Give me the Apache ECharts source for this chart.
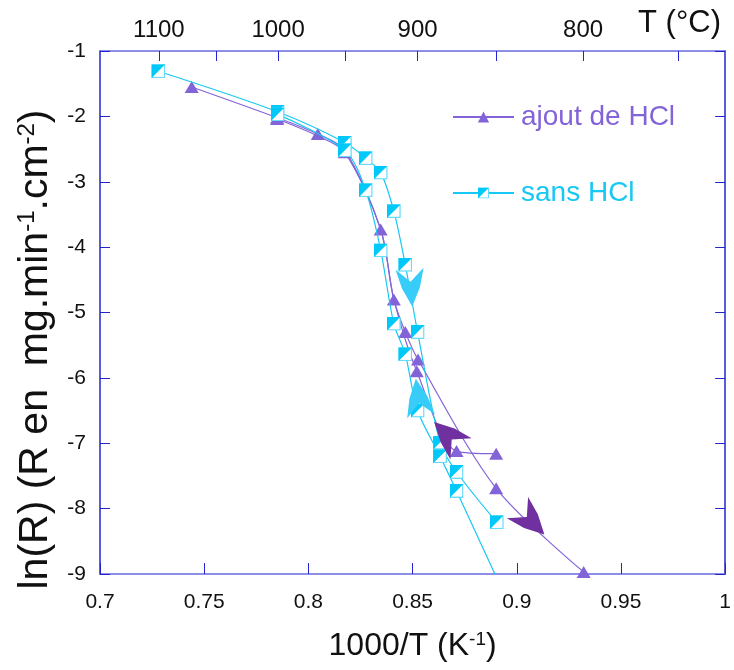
<!DOCTYPE html>
<html>
<head>
<meta charset="utf-8">
<script src="https://cdn.jsdelivr.net/npm/echarts@6/dist/echarts.min.js"></script>
<style>
html,body{margin:0;padding:0;background:#fff;}
#chart{width:734px;height:670px;}
</style>
</head>
<body>
<div id="chart"></div>
<script>
// ---- data (x = 1000/T in K^-1, y = ln(R)) ----
const seriesNames = ['ajout de HCl', 'sans HCl'];
// "ajout de HCl" : cooling branch (arrow downwards)
const ajoutCooling = [[0.744,-1.55],[0.785,-2.02],[0.8045,-2.27],[0.8175,-2.52],[0.8347,-3.73],[0.841,-4.80],[0.8465,-5.30],[0.8526,-5.72],[0.8901,-7.69],[0.9321,-8.97]];
// "ajout de HCl" : heating branch (arrow upwards)
const ajoutHeating = [[0.8901,-7.16],[0.8711,-7.12],[0.852,-5.90],[0.841,-4.80],[0.8347,-3.73],[0.8175,-2.55],[0.8045,-2.30],[0.785,-2.04]];
const ajoutHeatingMarked = [true,true,true,false,false,true,false,true];
// "sans HCl" : cooling branch
const sansCooling = [[0.728,-1.31],[0.7852,-1.93],[0.8175,-2.40],[0.8275,-2.64],[0.8347,-2.86],[0.841,-3.45],[0.8465,-4.27],[0.8524,-5.30],[0.8632,-6.99],[0.8711,-7.44],[0.8904,-8.21]];
// "sans HCl" : heating branch
const sansHeating = [[0.8895,-9.0],[0.8711,-7.73],[0.8632,-7.20],[0.8524,-6.50],[0.8465,-5.64],[0.841,-5.17],[0.8347,-4.05],[0.8275,-3.13],[0.8175,-2.52],[0.7852,-1.97]];
const sansHeatingMarked = [false,true,true,true,true,true,true,true,true,true];
// direction arrows [x, y, rotation]
const ajoutArrows = [[0.8668,-6.88,225],[0.9068,-8.19,45]];
const sansArrows = [[0.8492,-4.62,4],[0.8528,-6.30,188]];
// axis ticks
const xTicks = {min:0.7, max:1.0, step:0.05};
const yTicks = {min:-9, max:-1, step:1};
const topTickTemps = [1100,1050,1000,950,900,850,800,750];
const topLabelTemps = [1100,1000,900,800];

const PURPLE = '#8364d8';
const PURPLE_DARK = '#7030a0';
const CYAN = '#18c8f4';
const CYAN_ARROW = '#38ccf8';

const sqSvg = "<svg xmlns='http://www.w3.org/2000/svg' width='28' height='28' viewBox='0 0 14 14'>" +
  "<rect x='0.7' y='0.7' width='12.6' height='12.6' fill='#ffffff' stroke='#66dcfa' stroke-width='1.4'/>" +
  "<polygon points='0,0 14,0 0,14' fill='#00c8f8'/></svg>";
const squareSymbol = 'image://data:image/svg+xml;charset=utf-8,' + encodeURIComponent(sqSvg);
const arrowPath = 'path://M0,0 L10,9 L20,0 L16.5,13 L10,26 L3.5,13 Z';

function invT(t){ return 1000/(t+273.15); }

function withMarks(arr, marks){
  return arr.map((p,i)=> marks[i] ? {value:p} : {value:p, symbol:'none'});
}
function arrowPoints(arr, color){
  return arr.map(a=>({coord:[a[0],a[1]], symbolRotate:a[2], itemStyle:{color:color}}));
}

const chart = echarts.init(document.getElementById('chart'));
const axisBlue = '#6a6ae2';
const tickBlue = '#2424cc';
const labelFont = 'Liberation Sans, Arial, sans-serif';

const triSymbolSize = [14,12];
const sqSymbolSize = 14;

const option = {
  animation: false,
  backgroundColor: '#ffffff',
  textStyle: {fontFamily: labelFont},
  title: {
    text: 'T (°C)', right: 8, top: 3,
    textStyle: {fontSize: 31, fontWeight: 'normal', color: '#111', fontFamily: labelFont}
  },
  legend: {
    orient: 'vertical', left: 452, top: 103, itemGap: 48, padding: 0,
    itemWidth: 61, itemHeight: 14,
    data: [
      {name: seriesNames[0], textStyle: {color: PURPLE}},
      {name: seriesNames[1], textStyle: {color: CYAN}}
    ],
    textStyle: {fontSize: 28, fontFamily: labelFont, padding: [0,0,0,2]},
    selectedMode: false
  },
  grid: {left: 100, right: 3, top: 51, bottom: 96, containLabel: false},
  xAxis: [
    {
      type: 'value', position: 'bottom', min: xTicks.min, max: xTicks.max, interval: xTicks.step,
      axisLine: {onZero: false, lineStyle: {color: axisBlue, width: 1.5}},
      axisTick: {inside: true, length: 11, lineStyle: {color: tickBlue, width: 1}},
      splitLine: {show: false},
      axisLabel: {fontSize: 21, color: '#111', margin: 18, formatter: v => String(+v.toFixed(2))},
      name: '{a|1000/T (K}{s|-1}{a|)}', nameLocation: 'middle', nameGap: 56,
      nameTextStyle: {rich: {
        a: {fontSize: 32, color: '#111', fontFamily: labelFont},
        s: {fontSize: 19, color: '#111', fontFamily: labelFont, verticalAlign: 'top', padding: [0,0,12,0]}
      }}
    },
    {
      type: 'value', position: 'top', min: xTicks.min, max: xTicks.max,
      axisLine: {onZero: false, lineStyle: {color: axisBlue, width: 1.5}},
      axisTick: {inside: true, length: 10, customValues: topTickTemps.map(invT), lineStyle: {color: tickBlue, width: 1}},
      splitLine: {show: false},
      axisLabel: {fontSize: 24, color: '#111', margin: 9, customValues: topLabelTemps.map(invT),
        formatter: v => String(Math.round(1000/v - 273.15))}
    }
  ],
  yAxis: [
    {
      type: 'value', position: 'left', min: yTicks.min, max: yTicks.max, interval: yTicks.step,
      axisLine: {onZero: false, lineStyle: {color: tickBlue, width: 1.5}},
      axisTick: {inside: true, length: 10, lineStyle: {color: tickBlue, width: 1}},
      splitLine: {show: false},
      axisLabel: {fontSize: 21, color: '#111', margin: 14},
      name: '{a|ln(R) (R en  mg.min}{s|-1}{a|.cm}{s|-2}{a|)}', nameLocation: 'middle', nameGap: 34, nameRotate: 90,
      nameTextStyle: {padding: [0, 74, 0, 0], rich: {
        a: {fontSize: 41, color: '#111', fontFamily: labelFont},
        s: {fontSize: 24, color: '#111', fontFamily: labelFont, verticalAlign: 'top', padding: [0,0,15,0]}
      }}
    },
    {
      type: 'value', position: 'right', min: yTicks.min, max: yTicks.max, interval: yTicks.step,
      axisLine: {onZero: false, lineStyle: {color: tickBlue, width: 1.5}},
      axisTick: {inside: true, length: 10, lineStyle: {color: tickBlue, width: 1}},
      splitLine: {show: false},
      axisLabel: {show: false}
    }
  ],
  series: [
    {
      name: seriesNames[0], type: 'line', xAxisIndex: 0, yAxisIndex: 0, smooth: 0.3,
      data: ajoutCooling.map(p=>({value:p})),
      symbol: 'triangle', symbolSize: triSymbolSize, showAllSymbol: true,
      lineStyle: {color: PURPLE, width: 1.2}, itemStyle: {color: PURPLE},
      emphasis: {disabled: true}, z: 3,
      markPoint: {symbol: arrowPath, symbolSize: [30, 38], label: {show: false}, silent: true,
        data: arrowPoints(ajoutArrows, PURPLE_DARK)}
    },
    {
      name: seriesNames[0], type: 'line', xAxisIndex: 0, yAxisIndex: 0, smooth: 0.3,
      data: withMarks(ajoutHeating, ajoutHeatingMarked),
      symbol: 'triangle', symbolSize: triSymbolSize, showAllSymbol: true,
      lineStyle: {color: PURPLE, width: 1.2}, itemStyle: {color: PURPLE},
      emphasis: {disabled: true}, z: 3
    },
    {
      name: seriesNames[1], type: 'line', xAxisIndex: 0, yAxisIndex: 0, smooth: 0.3,
      data: sansCooling.map(p=>({value:p})),
      symbol: squareSymbol, symbolSize: sqSymbolSize, showAllSymbol: true,
      lineStyle: {color: CYAN, width: 1.2}, itemStyle: {color: CYAN},
      emphasis: {disabled: true}, z: 4,
      markPoint: {symbol: arrowPath, symbolSize: [28, 38], label: {show: false}, silent: true,
        data: arrowPoints(sansArrows, CYAN_ARROW)}
    },
    {
      name: seriesNames[1], type: 'line', xAxisIndex: 0, yAxisIndex: 0, smooth: 0.3,
      data: withMarks(sansHeating, sansHeatingMarked),
      symbol: squareSymbol, symbolSize: sqSymbolSize, showAllSymbol: true,
      lineStyle: {color: CYAN, width: 1.2}, itemStyle: {color: CYAN},
      emphasis: {disabled: true}, z: 4
    }
  ]
};
chart.setOption(option);
</script>
</body>
</html>
